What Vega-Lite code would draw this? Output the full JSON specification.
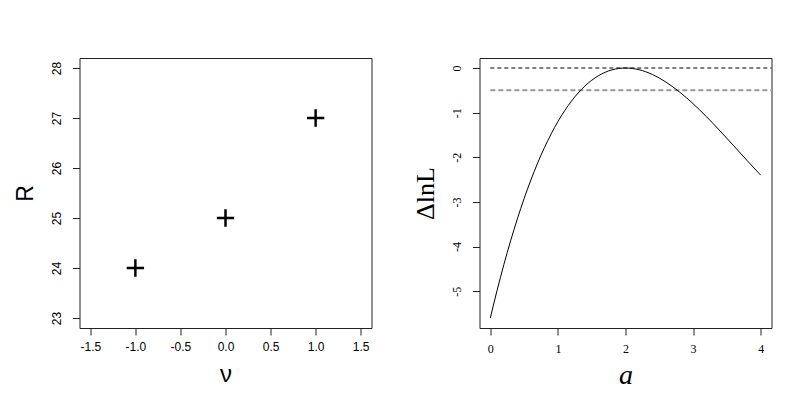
{
  "$schema": "https://vega.github.io/schema/vega-lite/v6.json",
  "padding": {"left": 13.5, "top": 57, "right": 0, "bottom": 0},
  "background": "white",
  "spacing": 108,
  "bounds": "flush",
  "config": {
    "view": {"stroke": "#222", "strokeWidth": 1},
    "axis": {"grid": false, "domain": false, "tickColor": "#222", "tickSize": 7, "labelColor": "#000", "titleColor": "#000", "titleFontWeight": "normal"}
  },
  "datasets": {
    "pts": [{"nu": -1, "R": 24}, {"nu": 0, "R": 25}, {"nu": 1, "R": 27}],
    "curve": [
      {"a": 0, "dlnL": -5.6}, {"a": 0.1, "dlnL": -4.982}, {"a": 0.2, "dlnL": -4.406}, {"a": 0.3, "dlnL": -3.873},
      {"a": 0.4, "dlnL": -3.379}, {"a": 0.5, "dlnL": -2.925}, {"a": 0.6, "dlnL": -2.509}, {"a": 0.7, "dlnL": -2.129},
      {"a": 0.8, "dlnL": -1.786}, {"a": 0.9, "dlnL": -1.476}, {"a": 1.0, "dlnL": -1.2}, {"a": 1.1, "dlnL": -0.956},
      {"a": 1.2, "dlnL": -0.742}, {"a": 1.3, "dlnL": -0.559}, {"a": 1.4, "dlnL": -0.403}, {"a": 1.6, "dlnL": -0.173},
      {"a": 1.8, "dlnL": -0.042}, {"a": 2.0, "dlnL": 0}, {"a": 2.2, "dlnL": -0.038}, {"a": 2.4, "dlnL": -0.147},
      {"a": 2.6, "dlnL": -0.317}, {"a": 2.8, "dlnL": -0.538}, {"a": 3.0, "dlnL": -0.8}, {"a": 3.2, "dlnL": -1.094},
      {"a": 3.4, "dlnL": -1.411}, {"a": 3.6, "dlnL": -1.741}, {"a": 3.8, "dlnL": -2.074}, {"a": 4.0, "dlnL": -2.4}
    ]
  },
  "hconcat": [
    {
      "width": 292, "height": 270,
      "data": {"name": "pts"},
      "mark": {"type": "point", "shape": "M-1,0L1,0M0,-1L0,1", "filled": false, "stroke": "#000", "strokeWidth": 2.5, "size": 300, "opacity": 1},
      "encoding": {
        "x": {"field": "nu", "type": "quantitative", "scale": {"domain": [-1.62, 1.62], "nice": false, "zero": false},
          "axis": {"values": [-1.5, -1, -0.5, 0, 0.5, 1, 1.5], "labelExpr": "datum.value < 0 ? '-' + format(-datum.value, '.1f') : format(datum.value, '.1f')",
            "labelFont": "Liberation Sans", "labelFontSize": 12, "labelPadding": 6, "title": "ν", "titleFont": "Liberation Sans", "titleFontSize": 24,
            "titleY": 53, "titleBaseline": "alphabetic"}},
        "y": {"field": "R", "type": "quantitative", "scale": {"domain": [22.8, 28.2], "nice": false, "zero": false},
          "axis": {"values": [23, 24, 25, 26, 27, 28], "labelAngle": -90, "labelAlign": "center", "labelBaseline": "bottom", "labelPadding": 9,
            "labelFont": "Liberation Sans", "labelFontSize": 12, "title": "R", "titleFont": "Liberation Sans", "titleFontSize": 23,
            "titleX": -54, "titleY": 135, "titleAngle": -90, "titleAlign": "center", "titleBaseline": "middle"}}
      }
    },
    {
      "width": 292, "height": 270,
      "layer": [
        {
          "data": {"values": [{"x0": 0, "x1": 4.16, "y": 0}]},
          "mark": {"type": "rule", "color": "#000", "strokeWidth": 1, "strokeDash": [4, 3]},
          "encoding": {"x": {"field": "x0", "type": "quantitative"}, "x2": {"field": "x1"}, "y": {"field": "y", "type": "quantitative"}}
        },
        {
          "data": {"values": [{"x0": 0, "x1": 4.16, "y": -0.5}]},
          "mark": {"type": "rule", "color": "#999", "strokeWidth": 2, "strokeDash": [5, 3]},
          "encoding": {"x": {"field": "x0", "type": "quantitative"}, "x2": {"field": "x1"}, "y": {"field": "y", "type": "quantitative"}}
        },
        {
          "data": {"name": "curve"},
          "mark": {"type": "line", "color": "#000", "strokeWidth": 1, "interpolate": "monotone"},
          "encoding": {
            "x": {"field": "a", "type": "quantitative"},
            "y": {"field": "dlnL", "type": "quantitative"}
          }
        }
      ],
      "encoding": {
        "x": {"type": "quantitative", "scale": {"domain": [-0.16, 4.16], "nice": false, "zero": false},
          "axis": {"values": [0, 1, 2, 3, 4], "labelFont": "Liberation Serif", "labelFontSize": 12, "labelPadding": 8,
            "title": "a", "titleFont": "Liberation Serif", "titleFontStyle": "italic", "titleFontSize": 28, "titleY": 55, "titleBaseline": "alphabetic"}},
        "y": {"type": "quantitative", "scale": {"domain": [-5.824, 0.224], "nice": false, "zero": false},
          "axis": {"values": [-5, -4, -3, -2, -1, 0], "labelExpr": "datum.value < 0 ? '-' + format(-datum.value, 'd') : format(datum.value, 'd')",
            "labelAngle": -90, "labelAlign": "center", "labelBaseline": "bottom", "labelPadding": 9,
            "labelFont": "Liberation Serif", "labelFontSize": 12, "title": "ΔlnL", "titleFont": "Liberation Serif", "titleFontSize": 26,
            "titleX": -54, "titleY": 135, "titleAngle": -90, "titleAlign": "center", "titleBaseline": "middle"}}
      }
    }
  ]
}
